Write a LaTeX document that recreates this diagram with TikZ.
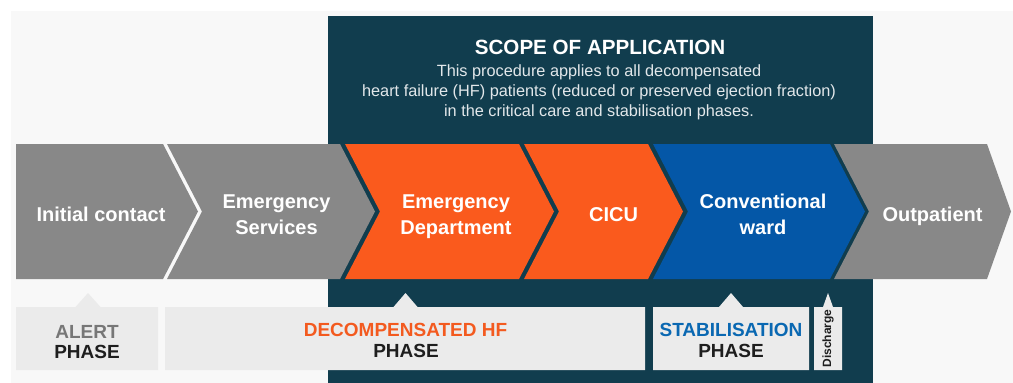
\documentclass[tikz,border=0pt]{standalone}
\usepackage{fontspec}
\setmainfont{Liberation Sans}
\definecolor{bgcol}{HTML}{F8F8F8}
\definecolor{darkteal}{HTML}{113D4E}
\definecolor{cgrey}{HTML}{888888}
\definecolor{corange}{HTML}{FA5A1D}
\definecolor{cblue}{HTML}{0457A7}
\definecolor{boxgrey}{HTML}{EBEBEB}
\definecolor{torange}{HTML}{F35A1F}
\definecolor{tblue}{HTML}{0A68B2}
\definecolor{tgrey}{HTML}{777777}
\definecolor{tdark}{HTML}{1E1E1E}
\definecolor{tlight}{HTML}{E2E7EA}
\newcommand{\twolines}[2]{\begin{tabular}[t]{@{}c@{}}#1\\#2\end{tabular}}
\tikzset{
  chevtext/.style={text=white, inner sep=0pt, anchor=base,
    font=\bfseries\fontsize{20}{26}\selectfont},
  phaselabel/.style={inner sep=0pt, anchor=base,
    font=\bfseries\fontsize{19}{19}\selectfont},
  phasebox/.style={fill=boxgrey},
}
\begin{document}
\begin{tikzpicture}[x=1pt,y=-1pt]
\useasboundingbox (0,0) rectangle (1013,383);
\fill[white] (0,0) rectangle (1013,383);
\fill[bgcol] (11,11) rectangle (1013,383);
\fill[darkteal] (328,16) rectangle (873,383);
% chevrons
\fill[cgrey] (16,144) -- (163,144) -- (198,211.5) -- (163,279) -- (16,279) -- cycle;
\fill[cgrey] (167,144) -- (340,144) -- (375,211.5) -- (340,279) -- (167,279) -- (202,211.5) -- cycle;
\fill[corange] (345,144) -- (519,144) -- (554,211.5) -- (519,279) -- (345,279) -- (380,211.5) -- cycle;
\fill[corange] (524,144) -- (648,144) -- (683,211.5) -- (648,279) -- (524,279) -- (559,211.5) -- cycle;
\fill[cblue] (653,144) -- (830,144) -- (865,211.5) -- (830,279) -- (653,279) -- (688,211.5) -- cycle;
\fill[cgrey] (834,144) -- (987,144) -- (1011,211.5) -- (987,279) -- (834,279) -- (869,211.5) -- cycle;
% chevron labels
\node[chevtext] (init) at (101,221) {Initial contact};
\node[chevtext] (ems) at (276.5,208) {\twolines{Emergency}{Services}};
\node[chevtext] (ed) at (456,208) {\twolines{Emergency}{Department}};
\node[chevtext] (cicu) at (613.5,221) {CICU};
\node[chevtext] (ward) at (763,208) {\twolines{Conventional}{ward}};
\node[chevtext] (outp) at (932.5,221) {Outpatient};
% scope text
\node[text=white, inner sep=0pt, anchor=base, font=\bfseries\fontsize{20.6}{20}\selectfont] (title) at (600,54) {SCOPE OF APPLICATION};
\node[text=tlight, inner sep=0pt, anchor=base, font=\fontsize{16.3}{20}\selectfont] (scope) at (599,76.5)
  {\begin{tabular}[t]{@{}c@{}}This procedure applies to all decompensated\\heart failure (HF) patients (reduced or preserved ejection fraction)\\in the critical care and stabilisation phases.\end{tabular}};
% phase boxes
\fill[phasebox] (16,307) -- (75.5,307) -- (88,293) -- (100.5,307) -- (158,307) -- (158,370) -- (16,370) -- cycle;
\fill[phasebox] (165,307) -- (393.5,307) -- (405.5,293) -- (417.5,307) -- (645,307) -- (645,370) -- (165,370) -- cycle;
\fill[phasebox] (653,307) -- (719,307) -- (731,293) -- (743,307) -- (809,307) -- (809,370) -- (653,370) -- cycle;
\fill[phasebox] (814,307) -- (823,307) -- (828,293) -- (833,307) -- (842,307) -- (842,370) -- (814,370) -- cycle;
% phase labels
\node[phaselabel, text=tgrey] (alert) at (87,338) {ALERT};
\node[phaselabel, text=tdark] (alertph) at (87,358) {PHASE};
\node[phaselabel, text=torange] (decomp) at (405.5,336) {DECOMPENSATED HF};
\node[phaselabel, text=tdark] (decompph) at (406,357) {PHASE};
\node[phaselabel, text=tblue] (stab) at (731,336) {STABILISATION};
\node[phaselabel, text=tdark] (stabph) at (731,357) {PHASE};
\node[text=tdark, inner sep=0pt, rotate=90, font=\bfseries\fontsize{12}{12}\selectfont] (disch) at (828,338.5) {Discharge};
\end{tikzpicture}
\end{document}
